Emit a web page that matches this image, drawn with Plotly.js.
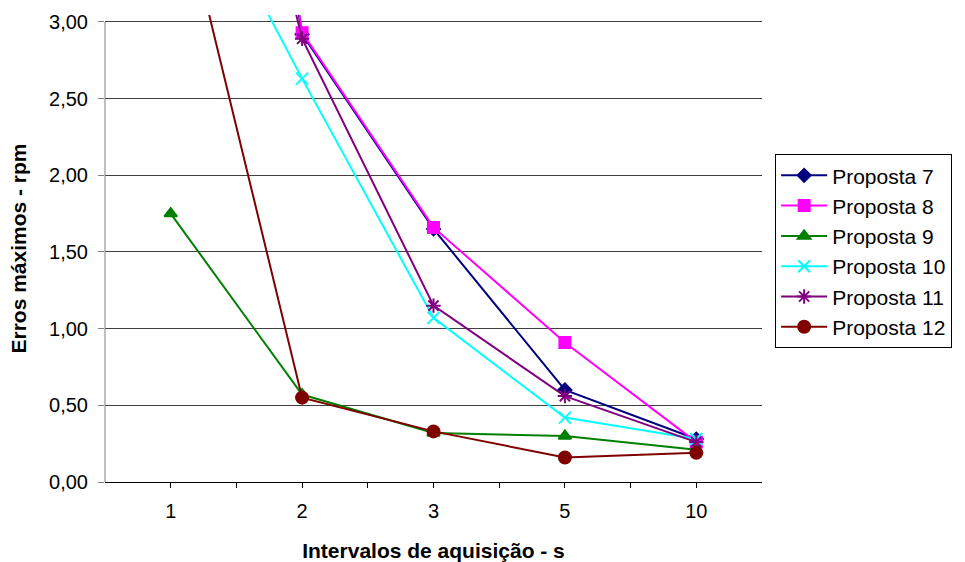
<!DOCTYPE html>
<html>
<head>
<meta charset="utf-8">
<script src="https://cdn.plot.ly/plotly-3.0.1.min.js"></script>
<style>html,body{margin:0;padding:0;background:#fff;}#chart{width:965px;height:562px;}</style>
</head>
<body>
<div id="chart"></div>
<script>
// Data
const categories = ['1', '2', '3', '5', '10'];
const seriesNames = ['Proposta 7', 'Proposta 8', 'Proposta 9', 'Proposta 10', 'Proposta 11', 'Proposta 12'];
const proposta7  = [8.0, 2.92, 1.65, 0.60, 0.28];
const proposta8  = [8.9, 2.93, 1.66, 0.91, 0.26];
const proposta9  = [1.75, 0.57, 0.32, 0.30, 0.21];
const proposta10 = [4.26, 2.63, 1.07, 0.42, 0.28];
const proposta11 = [6.4, 2.89, 1.15, 0.56, 0.26];
const proposta12 = [4.08, 0.55, 0.33, 0.16, 0.19];
const yTickVals = [0, 0.5, 1.0, 1.5, 2.0, 2.5, 3.0];
const yTickText = ['0,00', '0,50', '1,00', '1,50', '2,00', '2,50', '3,00'];

const seriesValues = [proposta7, proposta8, proposta9, proposta10, proposta11, proposta12];
const colors = ['#000080', '#FF00FF', '#008000', '#00FFFF', '#800080', '#800000'];
const symbols = ['diamond', 'square', 'triangle-up', 'x-thin-open', 'asterisk-open', 'circle'];
const sizes = [10, 11, 11, 12, 12, 12];

const xIdx = categories.map((c, i) => i);
const FONT = 'Liberation Sans, Arial, sans-serif';

const traces = seriesValues.map((vals, k) => ({
  type: 'scatter',
  mode: 'lines+markers',
  name: seriesNames[k],
  x: xIdx,
  y: vals,
  line: {color: colors[k], width: 2},
  marker: {symbol: symbols[k], color: colors[k], size: sizes[k], line: {color: colors[k], width: 2}},
  cliponaxis: true
}));

// x ticks at category centres and boundaries
const xTickVals = [];
const xTickText = [];
for (let i = 0; i < categories.length; i++) {
  xTickVals.push(i); xTickText.push(categories[i]);
  if (i < categories.length - 1) { xTickVals.push(i + 0.5); xTickText.push(''); }
}

const layout = {
  width: 965, height: 562,
  margin: {l: 105, r: 203, t: 15, b: 80},
  paper_bgcolor: '#ffffff',
  plot_bgcolor: '#ffffff',
  font: {family: FONT, size: 20, color: '#000'},
  showlegend: true,
  legend: {
    x: 1.02, xanchor: 'left', y: 0.702, yanchor: 'top',
    bordercolor: '#000', borderwidth: 1, bgcolor: '#fff',
    font: {family: FONT, size: 21, color: '#000'},
    itemwidth: 46,
    tracegroupgap: 0
  },
  xaxis: {
    type: 'linear',
    range: [-0.5, categories.length - 0.5],
    tickmode: 'array', tickvals: xTickVals, ticktext: xTickText,
    ticks: 'outside', ticklen: 5, tickcolor: '#000', tickwidth: 1,
    ticklabelstandoff: 6,
    showgrid: false, zeroline: false,
    showline: true, linecolor: '#000', linewidth: 1,
    tickfont: {family: FONT, size: 20, color: '#000'},
    title: {text: 'Intervalos de aquisição - s', font: {family: FONT, size: 21, color: '#000', weight: 'bold'}, standoff: 24},
    fixedrange: true
  },
  yaxis: {
    range: [0, 3.045],
    tickmode: 'array', tickvals: yTickVals, ticktext: yTickText,
    ticks: 'outside', ticklen: 6, tickcolor: '#808080', tickwidth: 1,
    ticklabelstandoff: 6,
    showgrid: true, gridcolor: '#404040', gridwidth: 1,
    zeroline: false, showline: false,
    tickfont: {family: FONT, size: 20, color: '#000'},
    title: {text: 'Erros máximos - rpm', font: {family: FONT, size: 21, color: '#000', weight: 'bold'}, standoff: 16},
    fixedrange: true
  },
  shapes: [
    {type: 'line', xref: 'paper', yref: 'y', x0: 0, x1: 0, y0: 0, y1: 3, line: {color: '#808080', width: 1}}
  ]
};

Plotly.newPlot('chart', traces, layout, {displayModeBar: false, staticPlot: true});
</script>
</body>
</html>
